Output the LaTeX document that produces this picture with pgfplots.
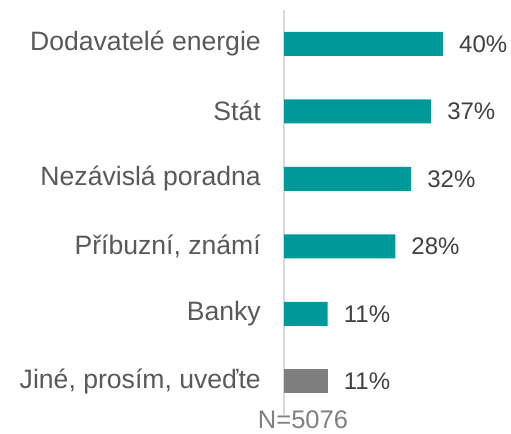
\documentclass[border=0pt]{standalone}
\usepackage{pgfplots}
\pgfplotsset{compat=1.18}
\usepackage{fontspec}
\setmainfont{Liberation Sans}
\definecolor{barteal}{HTML}{009999}
\definecolor{bargray}{HTML}{7F7F7F}
\definecolor{labgray}{HTML}{595959}
\definecolor{valgray}{HTML}{404040}
\definecolor{ngray}{HTML}{808080}
\definecolor{axisgray}{HTML}{D9D9D9}
\begin{document}
\begin{tikzpicture}
\path[use as bounding box] (0,0) rectangle (511bp,-434bp);
\begin{axis}[
  at={(284bp,-415bp)}, anchor=south west,
  scale only axis, width=218.6bp, height=405bp,
  xmin=0, xmax=55, ymin=-0.5, ymax=5.5, y dir=reverse,
  xbar, bar width=24bp, bar shift=0pt,
  axis x line=none, axis y line*=left,
  y axis line style={draw=axisgray, line width=1.5bp, -},
  ytick={0,...,5},
  yticklabels={Dodavatelé energie, Stát, Nezávislá poradna, {Příbuzní, známí}, Banky, {Jiné, prosím, uveďte}},
  major tick length=0pt,
  yticklabel style={anchor=east, inner sep=0pt, xshift=-23bp, text=labgray, font=\fontsize{26.6bp}{30bp}\selectfont},
  point meta=x,
  /pgf/number format/assume math mode=true,
  nodes near coords={\pgfmathprintnumber{\pgfplotspointmeta}\%},
  every node near coord/.append style={anchor=west, inner sep=0pt, xshift=16bp, text=valgray, font=\fontsize{24bp}{28bp}\selectfont},
  clip=false,
]
\addplot[fill=barteal, draw=none] coordinates {(40,0) (37,1) (32,2) (28,3) (11,4)};
\addplot[fill=bargray, draw=none] coordinates {(11,5)};
\node[anchor=north, inner sep=0pt, text=ngray, font=\fontsize{25.5bp}{30bp}\selectfont, xshift=19bp, yshift=4.5bp] at (axis description cs:0,0) {N=5076};
\end{axis}
\end{tikzpicture}
\end{document}
